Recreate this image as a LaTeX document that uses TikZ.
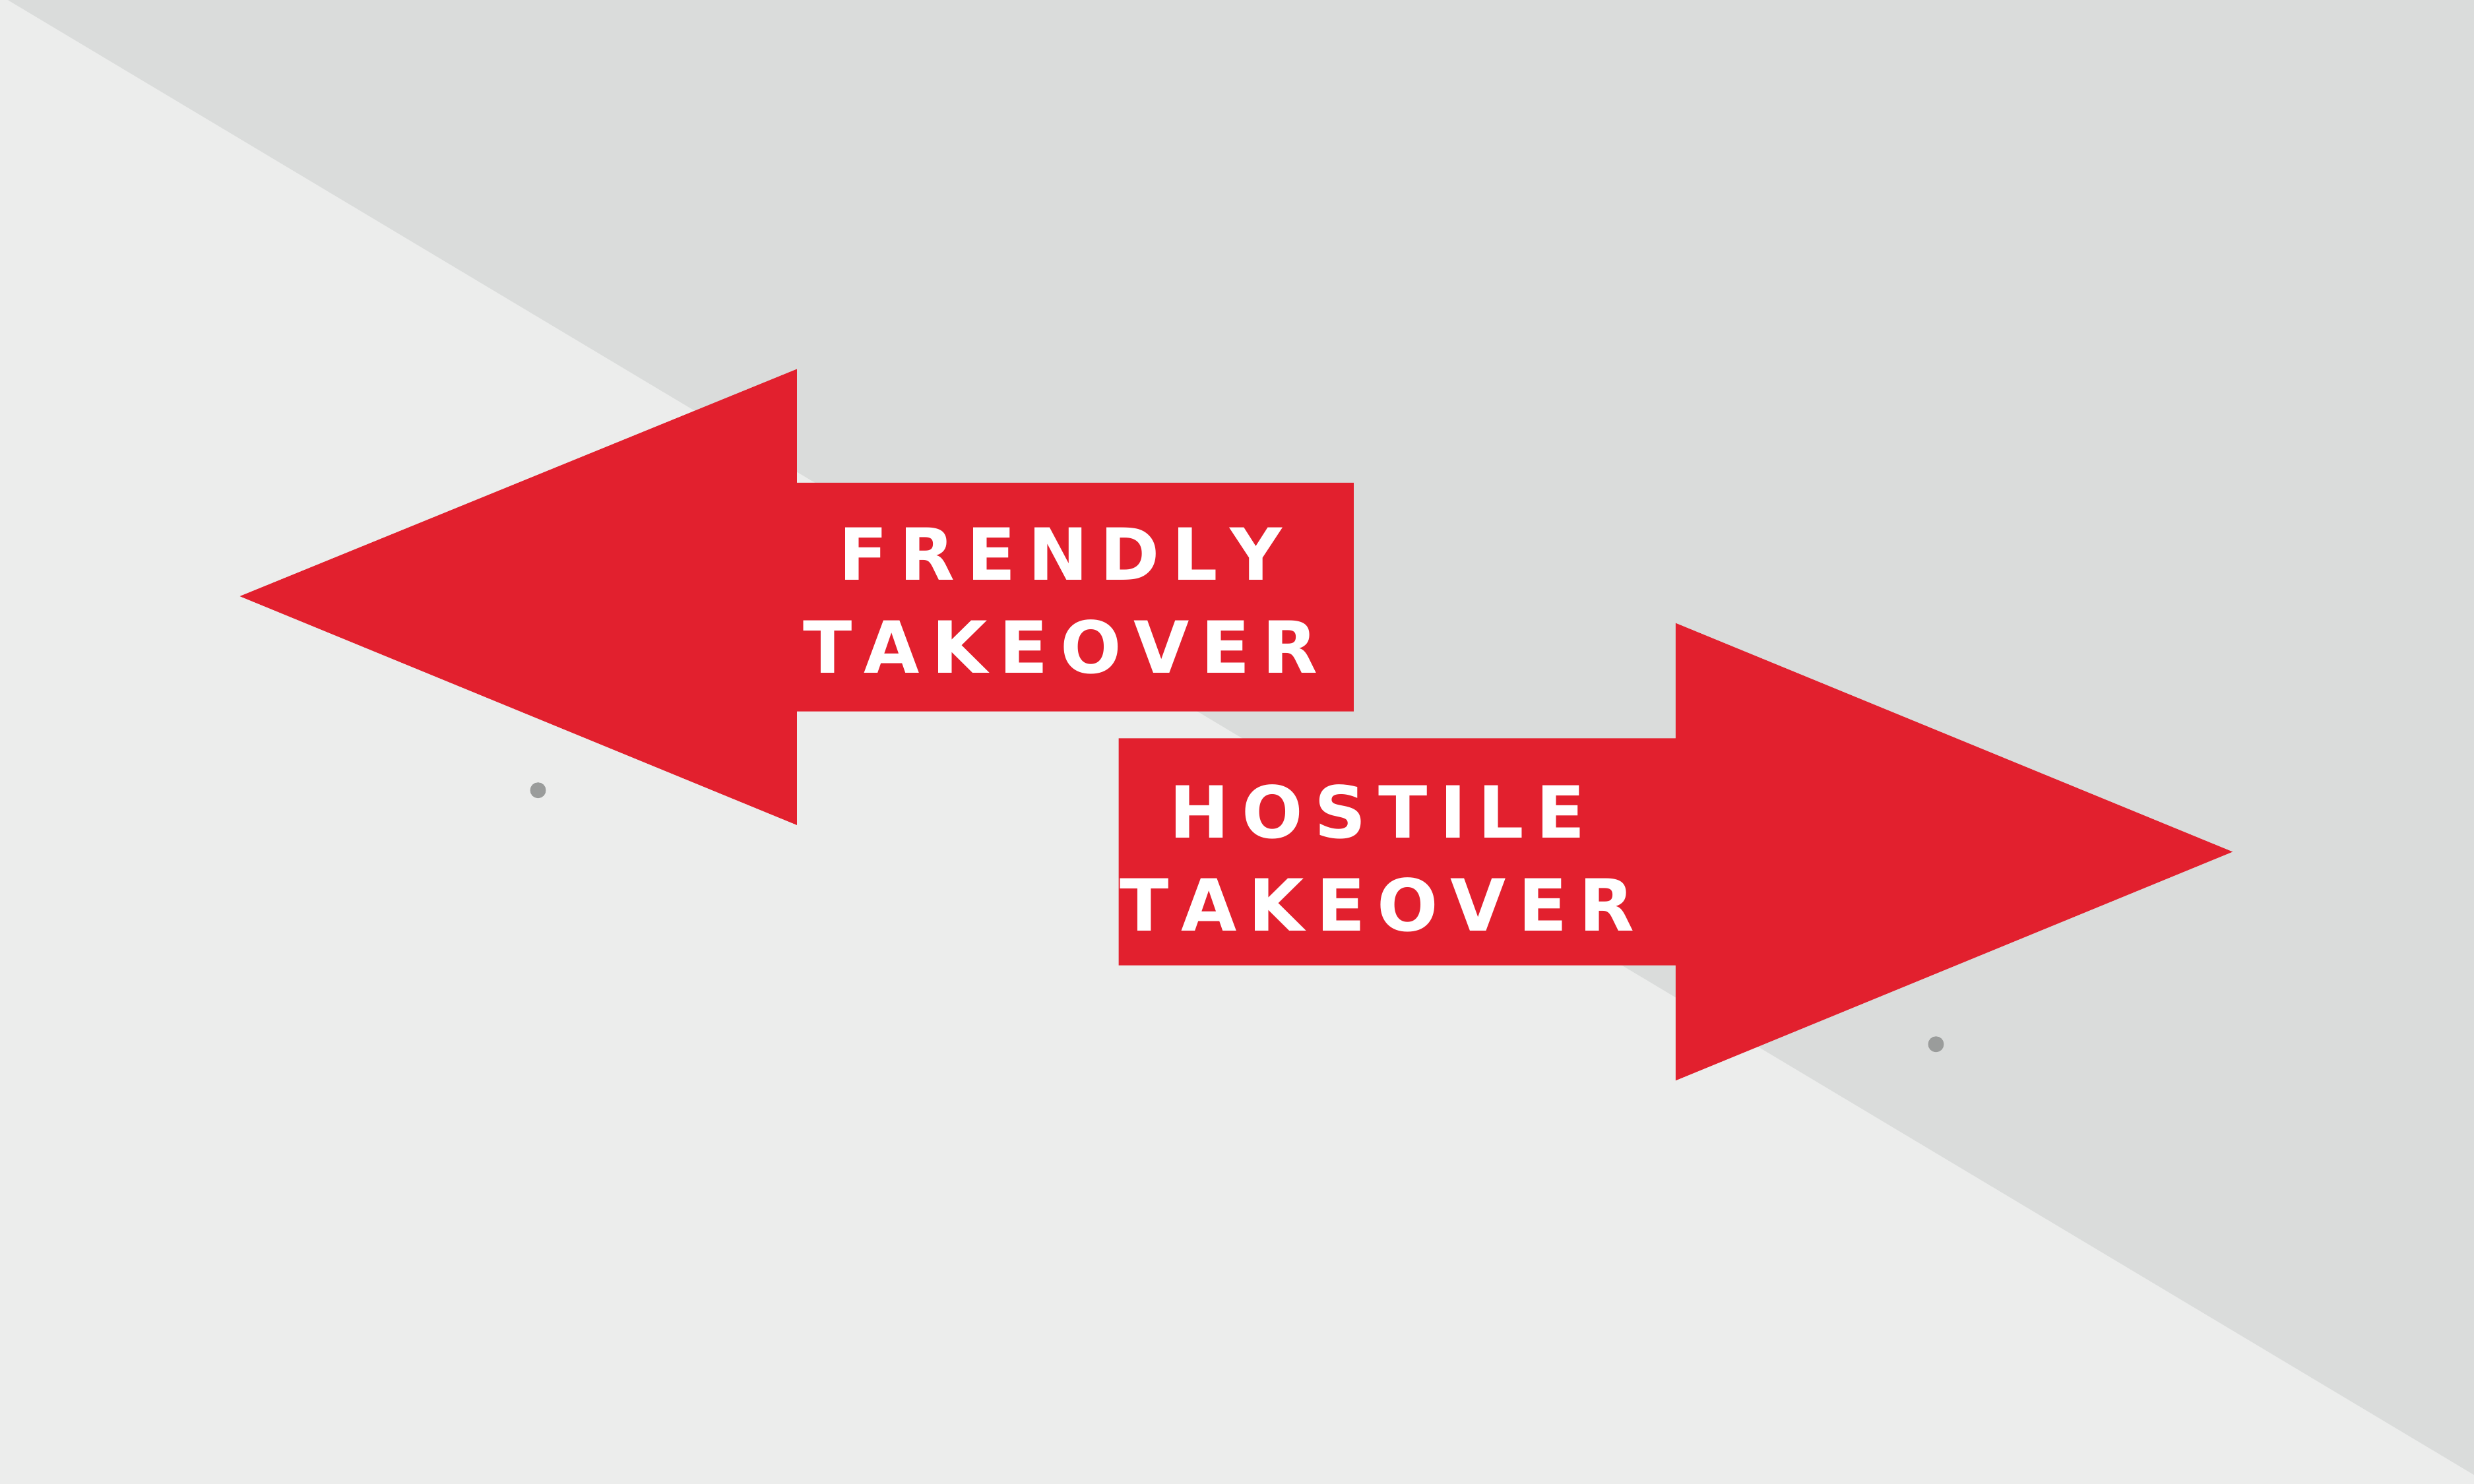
\documentclass[tikz,border=0pt]{standalone}
\usepackage{fontspec}
\setmainfont{DejaVu Sans}
\definecolor{bgl}{HTML}{ECEDEC}
\definecolor{bgd}{HTML}{DADCDB}
\definecolor{ared}{HTML}{E2202E}
\definecolor{dotc}{HTML}{9A9C9B}
\tikzset{lbl/.style={text=white,font=\fontsize{31}{40}\selectfont\bfseries,align=center,inner sep=0pt}}
\begin{document}
\begin{tikzpicture}[x=0.023916cm,y=-0.023916cm]
\useasboundingbox (0,0) rectangle (1568,940.8);
\fill[bgl] (0,0) rectangle (1568,940.8);
\fill[bgd] (5,0) -- (1568,0) -- (1568,935) -- cycle;
\fill[ared] (152,378) -- (505,234) -- (505,306) -- (858,306) -- (858,451) -- (505,451) -- (505,523) -- cycle;
\fill[ared] (1415,540) -- (1062,395) -- (1062,468) -- (709,468) -- (709,612) -- (1062,612) -- (1062,685) -- cycle;
\fill[dotc] (341,501) circle (5);
\fill[dotc] (1227,662) circle (5);
\node[lbl] (f) at (672,381) {F\,R\,E\,N\,D\,L\,Y\\T\,A\,K\,E\,O\,V\,E\,R};
\node[lbl] (h) at (873,544) {H\,O\,S\,T\,I\,L\,E\\T\,A\,K\,E\,O\,V\,E\,R};
\end{tikzpicture}
\end{document}
